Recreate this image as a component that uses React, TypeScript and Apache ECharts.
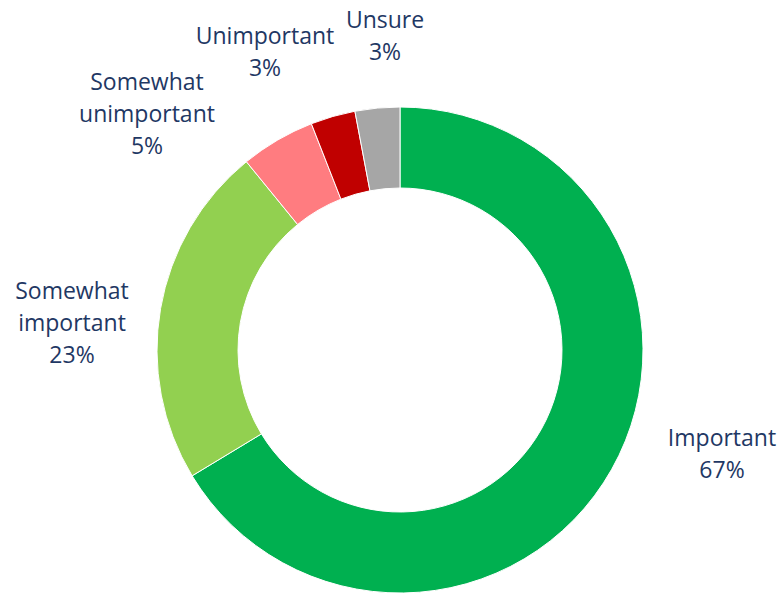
import React, { useEffect, useRef } from "react";
import * as echarts from "echarts";

const categories = ["Important", "Somewhat important", "Somewhat unimportant", "Unimportant", "Unsure"];
const labelNames = ["Important", "Somewhat\nimportant", "Somewhat\nunimportant", "Unimportant", "Unsure"];
const values = [67, 23, 5, 3, 3];
const colors = ["#00B050", "#92D050", "#FF7C80", "#C00000", "#A6A6A6"];

const labelPositions = [
  [722, 453],
  [72, 322],
  [147, 113],
  [265, 51],
  [385, 35],
];

export default function App() {
  const ref = useRef<HTMLDivElement>(null);
  useEffect(() => {
    document.body.style.margin = "0";
    const chart = echarts.init(ref.current!, null, { renderer: "svg" });
    chart.setOption({
      animation: false,
      series: [
        {
          type: "pie",
          center: [400, 350],
          radius: [162, 243],
          startAngle: 90,
          clockwise: true,
          itemStyle: { borderColor: "#ffffff", borderWidth: 1 },
          label: {
            show: true,
            position: "outside",
            formatter: (p: any) => `${labelNames[p.dataIndex]}\n${p.value}%`,
            color: "#1F3864",
            fontFamily: "Open Sans",
            fontSize: 23,
            lineHeight: 32,
            align: "center",
            overflow: "none",
          },
          labelLine: { show: false },
          labelLayout: (p: any) => ({
            x: labelPositions[p.dataIndex][0],
            y: labelPositions[p.dataIndex][1],
            align: "center",
            verticalAlign: "middle",
          }),
          emphasis: { disabled: true },
          data: categories.map((c, i) => ({
            name: c,
            value: values[i],
            itemStyle: { color: colors[i] },
          })),
        },
      ],
    });
    return () => chart.dispose();
  }, []);
  return <div ref={ref} style={{ width: 778, height: 595 }} />;
}
